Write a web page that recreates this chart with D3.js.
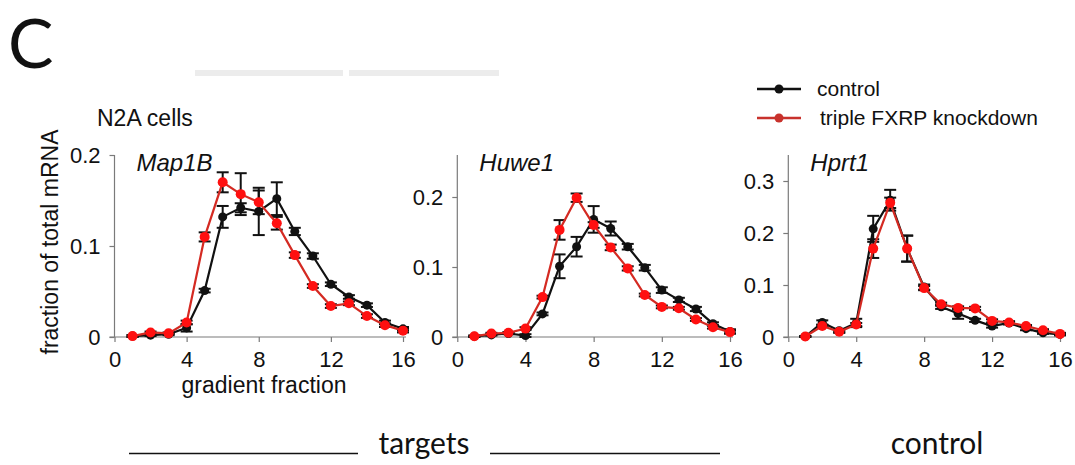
<!DOCTYPE html>
<html>
<head>
<meta charset="utf-8">
<script src="https://cdn.jsdelivr.net/npm/d3@7"></script>
<style>
  html, body { margin: 0; padding: 0; background: #fff; }
  svg { display: block; }
  text { font-family: "Liberation Sans", Arial, sans-serif; fill: #111; }
</style>
</head>
<body>
<svg id="fig" width="1075" height="465"></svg>
<script>
// Gradient fractions 1..16
const fractions = [1, 2, 3, 4, 5, 6, 7, 8, 9, 10, 11, 12, 13, 14, 15, 16];
const xTicks = [0, 4, 8, 12, 16];

// Map1B
const map1bControl    = [0.001, 0.002, 0.003, 0.010, 0.051, 0.132, 0.142, 0.138, 0.152, 0.116, 0.089, 0.058, 0.044, 0.035, 0.016, 0.009];
const map1bControlErr = [0.001, 0.001, 0.001, 0.004, 0.002, 0.012, 0.005, 0.026, 0.018, 0.004, 0.003, 0.002, 0.002, 0.002, 0.002, 0.002];
const map1bKnockdown    = [0.001, 0.005, 0.004, 0.016, 0.110, 0.170, 0.157, 0.148, 0.125, 0.090, 0.056, 0.034, 0.037, 0.023, 0.013, 0.007];
const map1bKnockdownErr = [0.001, 0.001, 0.001, 0.002, 0.005, 0.011, 0.023, 0.013, 0.007, 0.003, 0.002, 0.002, 0.002, 0.002, 0.002, 0.002];
const map1bTicks = [0, 0.1, 0.2];

// Huwe1
const huwe1Control    = [0.001, 0.003, 0.005, 0.002, 0.033, 0.101, 0.129, 0.168, 0.155, 0.129, 0.099, 0.067, 0.053, 0.040, 0.019, 0.008];
const huwe1ControlErr = [0.001, 0.001, 0.001, 0.002, 0.002, 0.017, 0.014, 0.019, 0.010, 0.004, 0.004, 0.004, 0.003, 0.003, 0.002, 0.003];
const huwe1Knockdown    = [0.001, 0.005, 0.006, 0.012, 0.057, 0.153, 0.199, 0.160, 0.128, 0.098, 0.060, 0.043, 0.041, 0.025, 0.014, 0.007];
const huwe1KnockdownErr = [0.001, 0.001, 0.001, 0.002, 0.002, 0.014, 0.006, 0.004, 0.004, 0.003, 0.002, 0.002, 0.002, 0.002, 0.002, 0.002];
const huwe1Ticks = [0, 0.1, 0.2];

// Hprt1
const hprt1Control    = [0.001, 0.028, 0.012, 0.027, 0.208, 0.263, 0.170, 0.096, 0.058, 0.045, 0.032, 0.021, 0.027, 0.016, 0.008, 0.005];
const hprt1ControlErr = [0.001, 0.004, 0.003, 0.008, 0.025, 0.020, 0.025, 0.005, 0.004, 0.010, 0.003, 0.003, 0.003, 0.003, 0.002, 0.002];
const hprt1Knockdown    = [0.001, 0.021, 0.010, 0.024, 0.170, 0.258, 0.170, 0.094, 0.063, 0.056, 0.055, 0.031, 0.028, 0.021, 0.013, 0.006];
const hprt1KnockdownErr = [0.001, 0.002, 0.002, 0.003, 0.018, 0.010, 0.025, 0.004, 0.003, 0.003, 0.003, 0.003, 0.002, 0.002, 0.002, 0.002];
const hprt1Ticks = [0, 0.1, 0.2, 0.3];

const seriesNames = ["control", "triple FXRP knockdown"];
const seriesLine = ["#111111", "#d42a22"];
const seriesDot  = ["#111111", "#ff1010"];
const legendLine = ["#111111", "#c8322c"];

const panels = [
  { gene: "Map1B", ctrl: map1bControl, ctrlErr: map1bControlErr, kd: map1bKnockdown, kdErr: map1bKnockdownErr,
    yMax: 0.2, yTicks: map1bTicks, x0: 114.5, x1: 403 },
  { gene: "Huwe1", ctrl: huwe1Control, ctrlErr: huwe1ControlErr, kd: huwe1Knockdown, kdErr: huwe1KnockdownErr,
    yMax: 0.26, yTicks: huwe1Ticks, x0: 457.3, x1: 730 },
  { gene: "Hprt1", ctrl: hprt1Control, ctrlErr: hprt1ControlErr, kd: hprt1Knockdown, kdErr: hprt1KnockdownErr,
    yMax: 0.35, yTicks: hprt1Ticks, x0: 788.3, x1: 1060 }
];

const svg = d3.select("#fig");
const yBottom = 337, yTop = 155;
const axisColor = "#7a7a7a";
const fmt = d => d === 0 ? "0" : d3.format(".1f")(d);

// Panel letter and decorative header bars
svg.append("text").attr("x", 8).attr("y", 68)
  .style("font-family", "Lato, 'Open Sans', sans-serif").style("font-size", "68px").style("font-weight", 400)
  .text("C");
svg.append("rect").attr("x", 195).attr("y", 70).attr("width", 148).attr("height", 6).attr("fill", "#ececec");
svg.append("rect").attr("x", 349).attr("y", 70).attr("width", 150).attr("height", 6).attr("fill", "#ececec");

svg.append("text").attr("x", 97).attr("y", 126).style("font-size", "23px").text("N2A cells");

// y-axis title
svg.append("text")
  .attr("transform", `translate(58,242) rotate(-90)`)
  .attr("text-anchor", "middle").style("font-size", "23px")
  .text("fraction of total mRNA");

panels.forEach((p, i) => {
  const x = d3.scaleLinear().domain([0, 16]).range([p.x0, p.x1]);
  const y = d3.scaleLinear().domain([0, p.yMax]).range([yBottom, yTop]);
  const g = svg.append("g");

  // y axis
  const ya = g.append("g").attr("transform", `translate(${p.x0},0)`)
    .call(d3.axisLeft(y).tickValues(p.yTicks).tickFormat(fmt).tickSize(5).tickSizeOuter(0).tickPadding(9));
  ya.select(".domain").remove();
  g.append("line").attr("x1", p.x0).attr("x2", p.x0).attr("y1", yTop).attr("y2", yBottom)
    .attr("stroke", axisColor).attr("stroke-width", 1.2);

  // x axis
  const xa = g.append("g").attr("transform", `translate(0,${yBottom})`)
    .call(d3.axisBottom(x).tickValues(xTicks).tickSize(5).tickSizeOuter(0).tickPadding(9));
  xa.select(".domain").remove();
  g.append("line").attr("x1", p.x0 - 5).attr("x2", p.x1 + 3).attr("y1", yBottom).attr("y2", yBottom)
    .attr("stroke", axisColor).attr("stroke-width", 1.2);

  [ya, xa].forEach(a => {
    a.selectAll(".tick line").attr("stroke", axisColor).attr("stroke-width", 1.2);
    a.selectAll(".tick text").style("font-size", "22px").style("font-family", "'Liberation Sans', Arial, sans-serif").attr("fill", "#111");
  });

  // gene name
  g.append("text").attr("x", p.x0 + 22).attr("y", 171)
    .style("font-size", "24px").style("font-style", "italic").text(p.gene);

  const line = d3.line().x(d => x(d.f)).y(d => y(d.v));
  const sets = [
    fractions.map((f, k) => ({ f, v: p.ctrl[k], e: p.ctrlErr[k] })),
    fractions.map((f, k) => ({ f, v: p.kd[k], e: p.kdErr[k] }))
  ];

  sets.forEach((data, s) => {
    const sg = g.append("g");
    // error bars
    const eb = sg.selectAll(".eb").data(data).join("g");
    eb.append("line").attr("x1", d => x(d.f)).attr("x2", d => x(d.f))
      .attr("y1", d => y(d.v - d.e)).attr("y2", d => y(d.v + d.e))
      .attr("stroke", "#111").attr("stroke-width", 2);
    eb.append("line").attr("x1", d => x(d.f) - 6).attr("x2", d => x(d.f) + 6)
      .attr("y1", d => y(d.v + d.e)).attr("y2", d => y(d.v + d.e))
      .attr("stroke", "#111").attr("stroke-width", 2);
    eb.append("line").attr("x1", d => x(d.f) - 6).attr("x2", d => x(d.f) + 6)
      .attr("y1", d => y(d.v - d.e)).attr("y2", d => y(d.v - d.e))
      .attr("stroke", "#111").attr("stroke-width", 2);
    // series line
    sg.append("path").datum(data).attr("d", line)
      .attr("fill", "none").attr("stroke", seriesLine[s]).attr("stroke-width", 2.2);
    // markers
    sg.selectAll("circle").data(data).join("circle")
      .attr("cx", d => x(d.f)).attr("cy", d => y(d.v)).attr("r", s === 0 ? 4.5 : 5)
      .attr("fill", seriesDot[s]);
  });

  if (i === 0) {
    svg.append("text").attr("x", 264).attr("y", 393)
      .attr("text-anchor", "middle").style("font-size", "23px").text("gradient fraction");
  }
});

// Legend
const lg = svg.append("g");
seriesNames.forEach((name, s) => {
  const ly = 89 + s * 29;
  lg.append("line").attr("x1", 757).attr("x2", 801).attr("y1", ly).attr("y2", ly)
    .attr("stroke", legendLine[s]).attr("stroke-width", 2.5);
  lg.append("circle").attr("cx", 779).attr("cy", ly).attr("r", 4.5).attr("fill", legendLine[s]);
  lg.append("text").attr("x", s === 0 ? 817 : 820).attr("y", ly + 7).style("font-size", "21px").text(name);
});

// Group labels underneath
const groupFont = "Lato, 'Open Sans', sans-serif";
svg.append("line").attr("x1", 129).attr("x2", 358).attr("y1", 453.5).attr("y2", 453.5).attr("stroke", "#111").attr("stroke-width", 1.5);
svg.append("line").attr("x1", 490).attr("x2", 720).attr("y1", 453.5).attr("y2", 453.5).attr("stroke", "#111").attr("stroke-width", 1.5);
svg.append("text").attr("x", 424).attr("y", 454).attr("text-anchor", "middle")
  .style("font-family", groupFont).style("font-size", "30px").text("targets");
svg.append("text").attr("x", 937).attr("y", 454).attr("text-anchor", "middle")
  .style("font-family", groupFont).style("font-size", "30px").text("control");
</script>
</body>
</html>
